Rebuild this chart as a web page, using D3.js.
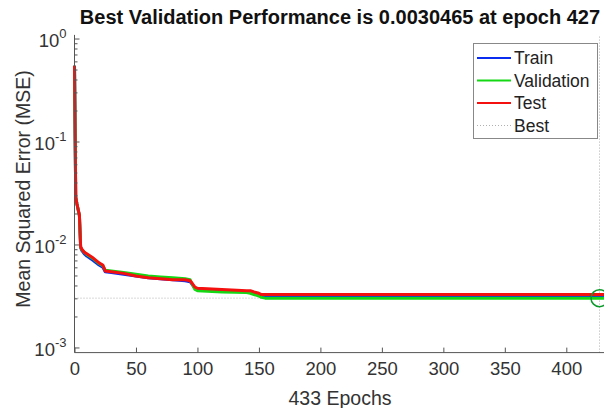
<!DOCTYPE html>
<html>
<head>
<meta charset="utf-8">
<script src="https://cdn.jsdelivr.net/npm/d3@7"></script>
<style>
body{margin:0;background:#fff;}
text{font-family:"Liberation Sans",Arial,sans-serif;}
</style>
</head>
<body>
<div id="chart"></div>
<script>
var epochs =     [0,    1,     2,     4,     5,      6,      8,      10,     15,     20,     23,     25,     30,     40,     50,     60,     70,     80,     90,     94,     96,     98,     100,    120,    140,    143,    146,    150,    152,    155,    200,    300,    400,    433];
var trainVals =  [0.55, 0.029, 0.025, 0.0192,0.0094, 0.0088, 0.0082, 0.0078, 0.0071, 0.0064, 0.0061, 0.0055, 0.0054, 0.0052, 0.0050, 0.0048, 0.0047, 0.0046, 0.0045, 0.0044, 0.0041, 0.0038, 0.0037, 0.0036, 0.0035, 0.0035, 0.0034, 0.0033, 0.0032, 0.0032, 0.0032, 0.0032, 0.0032, 0.0032];
var valVals =    [0.55, 0.029, 0.025, 0.0193,0.0095, 0.0090, 0.0085, 0.0081, 0.0074, 0.0066, 0.0063, 0.0057, 0.0056, 0.0054, 0.0052, 0.0050, 0.0049, 0.0048, 0.0047, 0.0046, 0.0041, 0.0037, 0.0036, 0.0035, 0.00345,0.0034, 0.0033, 0.0032, 0.00310,0.0030465,0.0030465,0.0030465,0.0030465,0.0030465];
var testVals =   [0.55, 0.029, 0.025, 0.0195,0.0096, 0.0091, 0.0085, 0.0082, 0.0075, 0.0067, 0.0064, 0.0056, 0.0055, 0.0053, 0.0050, 0.0048, 0.0047, 0.0046, 0.0046, 0.0045, 0.0042, 0.0039, 0.0038, 0.0037, 0.0036, 0.0036, 0.0035, 0.0034, 0.0033, 0.0033, 0.0033, 0.0033, 0.0033, 0.0033];
var bestEpoch = 427;
var bestVal = 0.0030465;
var xTicks = [0,50,100,150,200,250,300,350,400];
var yExps = [0,-1,-2,-3];
var legendNames = ["Train","Validation","Test","Best"];
var colors = ["#0a2cf0","#14d814","#f51010"];

var width = 604, height = 408;
var svg = d3.select("#chart").append("svg")
	.attr("width",width)
	.attr("height",height);

var x = d3.scaleLinear().domain([0,433]).range([74.5, 74.5+433*1.2295]);
var y = d3.scaleLog().domain([Math.pow(10,-3.045),Math.pow(10,0.04)]).range([352.6,34.9]);

var axisColor = "#555";

// best lines
svg.append("line")
	.attr("x1",x(0)).attr("x2",width)
	.attr("y1",y(bestVal)).attr("y2",y(bestVal))
	.attr("stroke","#b0b0b0").attr("stroke-dasharray","1,2").attr("stroke-width",1);
svg.append("line")
	.attr("x1",x(bestEpoch)).attr("x2",x(bestEpoch))
	.attr("y1",y.range()[0]).attr("y2",y.range()[1])
	.attr("stroke","#b0b0b0").attr("stroke-dasharray","1,2").attr("stroke-width",1);

// curves
var series = [trainVals,valVals,testVals];
var line = d3.line()
	.x(function(d,i){return x(epochs[i]);})
	.y(function(d){return y(d);});
series.forEach(function(s,i){
	svg.append("path")
		.datum(s)
		.attr("d",line)
		.attr("fill","none")
		.attr("stroke",colors[i])
		.attr("stroke-width",3)
		.attr("stroke-linejoin","round");
});

// best circle
svg.append("circle")
	.attr("cx",x(bestEpoch)).attr("cy",y(bestVal))
	.attr("r",8.5)
	.attr("fill","none")
	.attr("stroke","#0a9a2a")
	.attr("stroke-width",1.5);

// x axis
var xAxis = svg.append("g")
	.attr("transform","translate(0,"+y.range()[0]+")")
	.call(d3.axisBottom(x).tickValues(xTicks).tickSize(-5).tickPadding(9));
xAxis.select(".domain").attr("stroke",axisColor).attr("d","M"+x(0)+",0H"+width);
xAxis.selectAll(".tick line").attr("stroke",axisColor);
xAxis.selectAll(".tick text")
	.attr("fill","#333")
	.style("font-size","18.5px")
	.style("font-family","'Liberation Sans',Arial,sans-serif");

// y axis
var yAxis = svg.append("g")
	.attr("transform","translate("+x(0)+",0)");
yAxis.append("line")
	.attr("x1",0).attr("x2",0)
	.attr("y1",y.range()[1]).attr("y2",y.range()[0])
	.attr("stroke",axisColor);
yExps.forEach(function(e){
	yAxis.append("line")
		.attr("x1",0).attr("x2",5)
		.attr("y1",y(Math.pow(10,e))).attr("y2",y(Math.pow(10,e)))
		.attr("stroke",axisColor);
	if(e>-3){
		for(var m=2;m<10;m++){
			var v = m*Math.pow(10,e-1);
			yAxis.append("line")
				.attr("x1",0).attr("x2",3)
				.attr("y1",y(v)).attr("y2",y(v))
				.attr("stroke",axisColor);
		}
	}
	var t = yAxis.append("text")
		.attr("x",-8)
		.attr("y",y(Math.pow(10,e))+8)
		.attr("text-anchor","end")
		.attr("fill","#333")
		.style("font-size","18.5px");
	t.append("tspan").text("10");
	t.append("tspan").attr("dy",-9).style("font-size","13px").text(e===0?"0":"-"+(-e));
});

// title and labels
svg.append("text")
	.attr("x",340).attr("y",24)
	.attr("text-anchor","middle")
	.style("font-size","20px")
	.style("font-weight","bold")
	.attr("fill","#111")
	.text("Best Validation Performance is 0.0030465 at epoch 427");
svg.append("text")
	.attr("x",340).attr("y",405)
	.attr("text-anchor","middle")
	.style("font-size","19.5px")
	.attr("fill","#333")
	.text("433 Epochs");
svg.append("text")
	.attr("transform","translate(30,189) rotate(-90)")
	.attr("text-anchor","middle")
	.style("font-size","19.5px")
	.attr("fill","#333")
	.text("Mean Squared Error  (MSE)");

// legend
var legend = svg.append("g");
legend.append("rect")
	.attr("x",473.5).attr("y",43.5)
	.attr("width",124).attr("height",95)
	.attr("fill","#fff")
	.attr("stroke","#888");
legendNames.forEach(function(n,i){
	var ly = 58+i*22.5;
	legend.append("line")
		.attr("x1",477).attr("x2",511)
		.attr("y1",ly).attr("y2",ly)
		.attr("stroke",i<3?colors[i]:"#b0b0b0")
		.attr("stroke-width",i<3?2:1)
		.attr("stroke-dasharray",i<3?null:"1,2");
	legend.append("text")
		.attr("x",514).attr("y",ly+6)
		.style("font-size","17.5px")
		.attr("fill","#222")
		.text(n);
});
</script>
</body>
</html>
